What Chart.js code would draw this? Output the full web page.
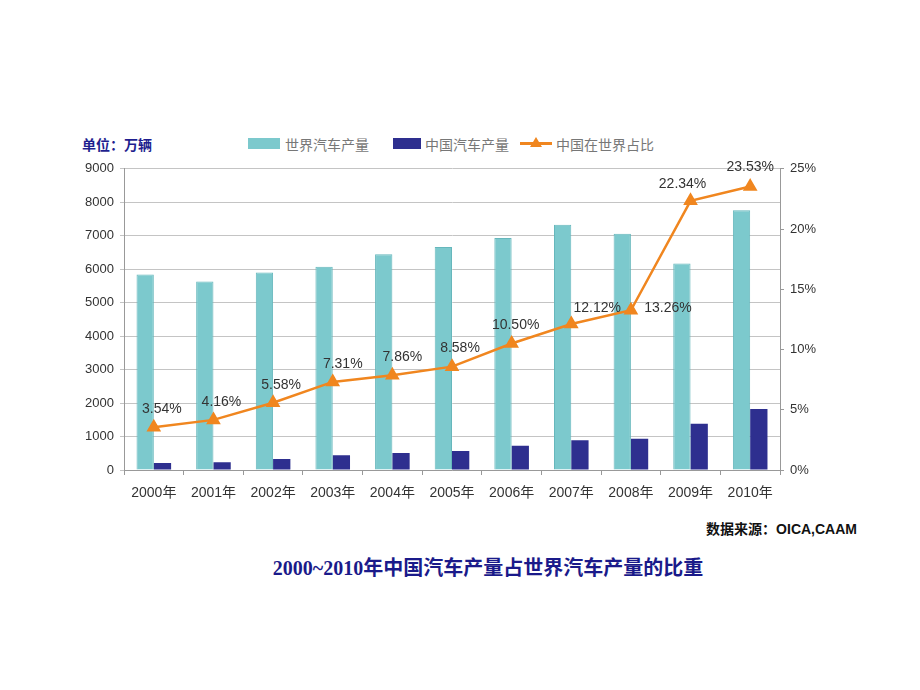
<!DOCTYPE html>
<html>
<head>
<meta charset="utf-8">
<script src="https://cdn.jsdelivr.net/npm/chart.js@4/dist/chart.umd.min.js"></script>
<style>
  body { margin: 0; width: 920px; height: 690px; background: #fff; position: relative; font-family: "Liberation Sans", "Noto Sans CJK SC", sans-serif; }
  #wrap { position: absolute; left: 0; top: 155px; width: 920px; height: 355px; }
  .txt { position: absolute; white-space: nowrap; }
  #unit { left: 82px; top: 134px; font: bold 14px "Liberation Serif", "Noto Sans CJK SC", serif; color: #1f1f8f; }
  .leg { top: 134px; font: 14px "Noto Sans CJK SC", sans-serif; color: #777; }
  .sw { position: absolute; }
  #source { right: 63px; top: 518px; font: bold 14px "Liberation Sans", "Noto Sans CJK SC", sans-serif; color: #111; }
  #title { left: 0; width: 976px; text-align: center; top: 552px; font: bold 20px "Liberation Serif", "Noto Sans CJK SC", serif; color: #1a1a8a; }
</style>
</head>
<body>
<div class="txt" id="unit">单位：万辆</div>
<div class="sw" style="left:248px;top:138px;width:32px;height:11px;background:#7cc9cd;"></div>
<div class="txt leg" style="left:285px;">世界汽车产量</div>
<div class="sw" style="left:393px;top:138px;width:28px;height:11px;background:#2e2f8f;"></div>
<div class="txt leg" style="left:425px;">中国汽车产量</div>
<div class="sw" style="left:520px;top:142px;width:32px;height:3px;background:#f0861f;"></div>
<div class="sw" style="left:530px;top:137px;width:0;height:0;border-left:6px solid transparent;border-right:6px solid transparent;border-bottom:10px solid #f0861f;"></div>
<div class="txt leg" style="left:556px;">中国在世界占比</div>
<div id="wrap"><canvas id="chart"></canvas></div>
<div class="txt" id="source">数据来源：OICA,CAAM</div>
<div class="txt" id="title">2000~2010年中国汽车产量占世界汽车产量的比重</div>
<script>
const years = ["2000年", "2001年", "2002年", "2003年", "2004年", "2005年", "2006年", "2007年", "2008年", "2009年", "2010年"];
const worldOutput = [5840, 5630, 5900, 6070, 6450, 6660, 6930, 7330, 7060, 6170, 7760];
const chinaOutput = [207, 234, 325, 444, 507, 571, 728, 888, 935, 1379, 1826];
const chinaShare = [3.54, 4.16, 5.58, 7.31, 7.86, 8.58, 10.50, 12.12, 13.26, 22.34, 23.53];

// label offsets, index -> [dx, dy]
const labelShift = { 0: [8, -18], 1: [8, -18], 2: [8, -18], 3: [10, -18], 4: [10, -18], 5: [8, -18], 6: [4, -18], 7: [26, -16], 8: [37, -2], 9: [-8, -17], 10: [0, -19] };

const pointLabels = {
  id: "pointLabels",
  afterDatasetsDraw(chart) {
    const meta = chart.getDatasetMeta(2);
    const ctx = chart.ctx;
    ctx.save();
    ctx.font = '14px "Liberation Sans", sans-serif';
    ctx.fillStyle = "#333";
    ctx.textAlign = "center";
    ctx.textBaseline = "middle";
    meta.data.forEach((pt, i) => {
      const s = labelShift[i] || [0, -18];
      ctx.fillText(chinaShare[i].toFixed(2) + "%", pt.x + s[0], pt.y + s[1]);
    });
    ctx.restore();
  }
};

new Chart(document.getElementById("chart"), {
  data: {
    labels: years,
    datasets: [
      { type: "bar", label: "世界汽车产量", data: worldOutput, backgroundColor: "#7cc9cd", borderColor: "#66b7bc", borderWidth: 1, yAxisID: "y", order: 2 },
      { type: "bar", label: "中国汽车产量", data: chinaOutput, backgroundColor: "#2e2f8f", yAxisID: "y", order: 2 },
      { type: "line", label: "中国在世界占比", data: chinaShare, borderColor: "#f0861f", backgroundColor: "#f0861f", borderWidth: 2.5,
        pointStyle: "triangle", pointRadius: 6, pointHoverRadius: 6, yAxisID: "y1", order: 1, tension: 0 }
    ]
  },
  options: {
    responsive: true,
    maintainAspectRatio: false,
    animation: false,
    datasets: { bar: { categoryPercentage: 0.58, barPercentage: 1 } },
    layout: { padding: { top: 13, left: 0, right: 0, bottom: 0 } },
    plugins: { legend: { display: false }, tooltip: { enabled: false } },
    scales: {
      x: {
        offset: true,
        grid: { drawOnChartArea: false, offset: true, tickLength: 5, color: "#999" },
        border: { color: "#999" },
        ticks: { color: "#333", font: { size: 14, family: '"Liberation Sans", "Noto Sans CJK SC", sans-serif' }, padding: 10 },
        afterFit(s) { s.height = 40; }
      },
      y: {
        position: "left",
        min: 0, max: 9000,
        ticks: { stepSize: 1000, color: "#333", font: { size: 13, family: '"Liberation Sans", sans-serif' }, padding: 6, callback: v => String(v) },
        grid: { color: "#c4c4c4", tickLength: 4 },
        border: { color: "#999" },
        afterFit(s) { s.width = 124; }
      },
      y1: {
        position: "right",
        min: 0, max: 25,
        ticks: { stepSize: 5, color: "#333", font: { size: 13, family: '"Liberation Sans", sans-serif' }, padding: 6, callback: v => v + "%" },
        grid: { drawOnChartArea: false, tickLength: 4, color: "#999" },
        border: { color: "#999" },
        afterFit(s) { s.width = 140; }
      }
    }
  },
  plugins: [pointLabels]
});
</script>
</body>
</html>
